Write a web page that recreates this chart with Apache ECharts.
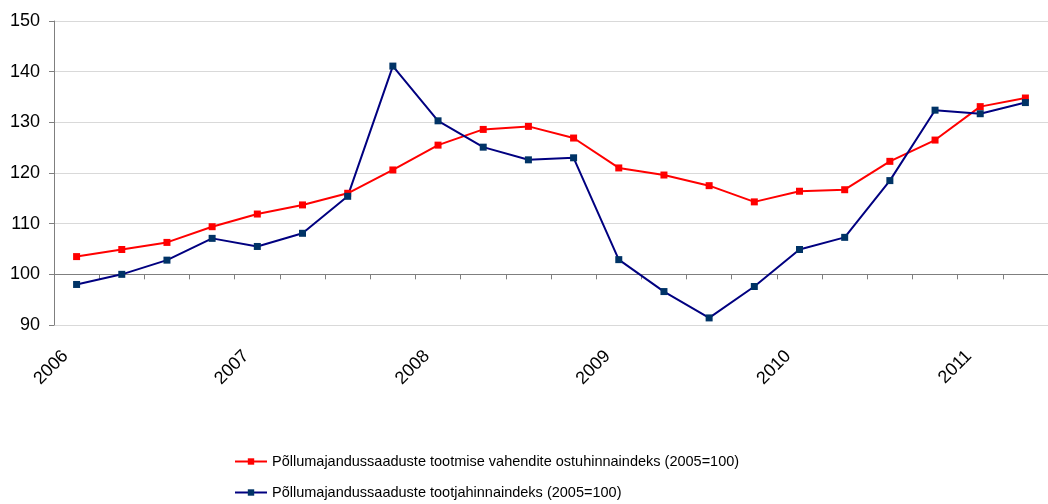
<!DOCTYPE html>
<html>
<head>
    <meta charset="UTF-8">
    <title>Hinnaindeksid</title>
    <style>
        html, body { margin: 0; padding: 0; background: #fff; }
        #main { width: 1048px; height: 504px; }
    </style>
</head>
<body>
    <div id="main"></div>

    <script src="https://cdn.jsdelivr.net/npm/echarts@6/dist/echarts.min.js"></script>
    <script type="text/javascript">
        // kvartalid 2006 I ... 2011 II
        let quarters = ['2006 I', '2006 II', '2006 III', '2006 IV',
            '2007 I', '2007 II', '2007 III', '2007 IV',
            '2008 I', '2008 II', '2008 III', '2008 IV',
            '2009 I', '2009 II', '2009 III', '2009 IV',
            '2010 I', '2010 II', '2010 III', '2010 IV',
            '2011 I', '2011 II'];

        let nameInput = 'Põllumajandussaaduste tootmise vahendite ostuhinnaindeks (2005=100)';
        let nameOutput = 'Põllumajandussaaduste tootjahinnaindeks (2005=100)';

        let inputIndex = [103.5, 104.9, 106.3, 109.4, 111.9, 113.7, 116.0, 120.6,
            125.5, 128.6, 129.2, 126.9, 121.0, 119.6, 117.5, 114.3,
            116.4, 116.7, 122.3, 126.5, 133.1, 134.8];
        let outputIndex = [98.0, 100.0, 102.8, 107.1, 105.5, 108.1, 115.4, 141.1,
            130.3, 125.1, 122.6, 123.0, 102.9, 96.6, 91.4, 97.6,
            104.9, 107.3, 118.5, 132.4, 131.7, 133.9];

        let yMin = 90, yMax = 150, yStep = 10, crossAt = 100;

        let gridTop = 21, gridBottom = 179;
        let plotH = 504 - gridTop - gridBottom;
        // x-telg lõikab y-telge väärtusel 100
        let crossOffset = -(crossAt - yMin) / (yMax - yMin) * plotH;

        let font = "'Liberation Sans', Arial, sans-serif";

        let myChart = echarts.init(document.getElementById('main'));
        myChart.setOption({
            animation: false,
            grid: { left: 54, right: -11, top: gridTop, bottom: gridBottom },
            legend: {
                orient: 'vertical',
                left: 234,
                top: 454,
                padding: 0,
                itemWidth: 32,
                itemHeight: 8,
                itemGap: 16,
                textStyle: { fontFamily: font, fontSize: 14.5, color: '#000' },
                data: [nameInput, nameOutput]
            },
            xAxis: [{
                type: 'category',
                data: quarters,
                boundaryGap: true,
                axisLine: { show: false },
                axisTick: { show: false },
                splitLine: { show: false },
                axisLabel: {
                    interval: 3,
                    rotate: 45,
                    margin: 17,
                    padding: [0, 16, 0, 0],
                    fontFamily: font,
                    fontSize: 18,
                    color: '#000',
                    formatter: function (v) { return v.split(' ')[0]; }
                }
            }, {
                type: 'category',
                data: quarters,
                position: 'bottom',
                offset: crossOffset,
                boundaryGap: true,
                axisLine: { show: true, lineStyle: { color: '#7f7f7f', width: 1 } },
                axisTick: { show: true, interval: 0, length: 5, lineStyle: { color: '#7f7f7f' } },
                axisLabel: { show: false },
                splitLine: { show: false }
            }],
            yAxis: {
                type: 'value',
                min: yMin,
                max: yMax,
                interval: yStep,
                axisLine: { show: true, lineStyle: { color: '#7f7f7f', width: 1 } },
                axisTick: { show: true, length: 5, lineStyle: { color: '#7f7f7f' } },
                splitLine: { lineStyle: { color: '#d9d9d9', width: 1 } },
                axisLabel: { fontFamily: font, fontSize: 18, color: '#000', margin: 14 }
            },
            series: [{
                name: nameInput,
                type: 'line',
                xAxisIndex: 0,
                data: inputIndex,
                symbol: 'rect',
                symbolSize: 7,
                lineStyle: { color: '#ff0000', width: 2 },
                itemStyle: { color: '#ff0000' }
            }, {
                name: nameOutput,
                type: 'line',
                xAxisIndex: 0,
                data: outputIndex,
                symbol: 'rect',
                symbolSize: 7,
                lineStyle: { color: '#000080', width: 2 },
                itemStyle: { color: '#003366' }
            }]
        });
    </script>
</body>
</html>
